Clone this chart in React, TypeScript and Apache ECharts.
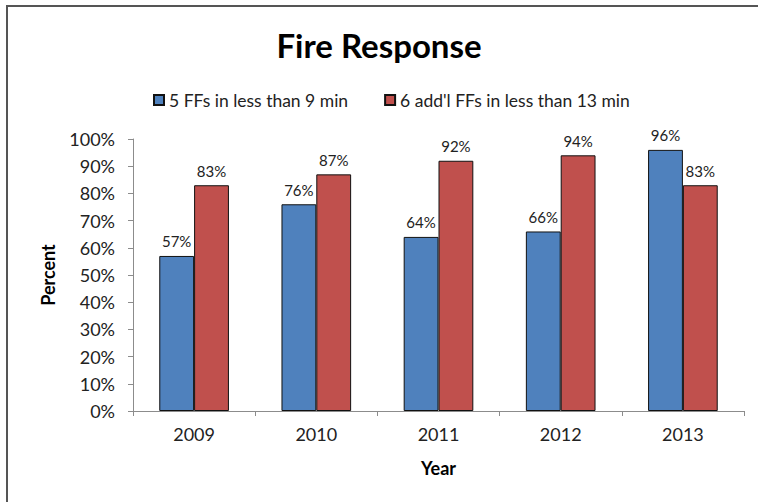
import React, { useEffect, useRef } from "react";
import * as echarts from "echarts";

const years = ["2009", "2010", "2011", "2012", "2013"];
const fiveFFs = [57, 76, 64, 66, 96];
const sixAddlFFs = [83, 87, 92, 94, 83];
const seriesNames = ["5 FFs in less than 9 min", "6 add'l FFs in less than 13 min"];

const FONT = "Lato, 'Open Sans', sans-serif";

export default function App() {
  const ref = useRef<HTMLDivElement>(null);

  useEffect(() => {
    if (!ref.current) return;
    const chart = echarts.init(ref.current, undefined, { renderer: "svg" });
    const label = {
      show: true,
      position: "top" as const,
      distance: 7,
      color: "#222",
      fontSize: 15,
      fontFamily: FONT,
      formatter: (p: any) => `${p.value}%`,
    };
    chart.setOption({
      animation: false,
      backgroundColor: "#fff",
      textStyle: { fontFamily: FONT },
      graphic: [
        {
          type: "rect",
          shape: { x: 7, y: 6, width: 780, height: 520 },
          style: { fill: "none", stroke: "#555", lineWidth: 2 },
          silent: true,
        },
      ],
      title: {
        text: "Fire Response",
        left: "center",
        top: 23,
        textStyle: { fontSize: 33, fontWeight: "bold", color: "#000", fontFamily: FONT },
      },
      legend: {
        top: 86,
        left: 148,
        itemWidth: 10,
        itemHeight: 10,
        itemGap: 36,
        icon: "rect",
        textStyle: { fontSize: 17.5, color: "#222", fontFamily: FONT },
        data: seriesNames,
      },
      grid: { left: 133, right: 14, top: 139, bottom: 91, containLabel: false },
      xAxis: {
        type: "category",
        data: years,
        name: "Year",
        nameLocation: "middle",
        nameGap: 48,
        nameTextStyle: { fontSize: 18, fontWeight: "bold", color: "#000", fontFamily: FONT },
        axisLine: { lineStyle: { color: "#8c8c8c" } },
        axisTick: { show: true, length: 5, lineStyle: { color: "#8c8c8c" } },
        axisLabel: { fontSize: 18, color: "#222", margin: 14, fontFamily: FONT },
      },
      yAxis: {
        type: "value",
        min: 0,
        max: 100,
        interval: 10,
        name: "Percent",
        nameLocation: "middle",
        nameGap: 76,
        nameRotate: 90,
        nameTextStyle: { fontSize: 18, fontWeight: "bold", color: "#000", fontFamily: FONT },
        splitLine: { show: false },
        axisLine: { show: true, lineStyle: { color: "#8c8c8c" } },
        axisTick: { show: true, length: 5, lineStyle: { color: "#8c8c8c" } },
        axisLabel: { fontSize: 18, color: "#222", margin: 18, fontFamily: FONT, formatter: "{value}%" },
      },
      series: [
        {
          name: seriesNames[0],
          type: "bar",
          data: fiveFFs,
          barGap: "0%",
          barCategoryGap: "43%",
          itemStyle: { color: "#4F81BD", borderColor: "#111", borderWidth: 1 },
          label,
        },
        {
          name: seriesNames[1],
          type: "bar",
          data: sixAddlFFs,
          barGap: "0%",
          barCategoryGap: "43%",
          itemStyle: { color: "#C0504D", borderColor: "#111", borderWidth: 1 },
          label,
        },
      ],
    });
    return () => chart.dispose();
  }, []);

  return (
    <div
      ref={ref}
      style={{ position: "fixed", left: 0, top: 0, width: 758, height: 502 }}
    />
  );
}
